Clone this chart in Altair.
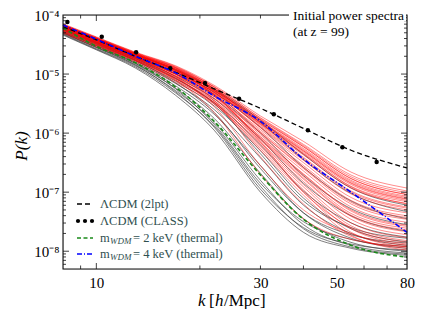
import altair as alt
import numpy as np
import pandas as pd

FONT = "Liberation Serif"
FRAME = "#111111"
W, H = 344, 254

# ---------------- data (log10 P) ----------------
k_grid = [8, 10, 13, 17, 22, 30, 40, 55, 80]

lcdm_2lpt_logp = [-4.20, -4.42, -4.70, -4.97, -5.25, -5.58, -5.92, -6.29, -6.59]
wdm2_logp = [-4.22, -4.53, -4.81, -5.22, -5.80, -6.71, -7.46, -7.90, -8.10]
wdm4_logp = [-4.17, -4.41, -4.70, -4.98, -5.37, -5.80, -6.44, -7.00, -7.68]

class_k = [8.24, 10.37, 13.05, 16.4, 20.7, 26.0, 32.8, 41.2, 51.9, 65.3]
class_logp = [-4.12, -4.37, -4.63, -4.90, -5.15, -5.42, -5.68, -5.95, -6.24, -6.49]

red_logp = [
    [-4.15, -4.37, -4.63, -4.86, -5.19, -5.71, -6.14, -6.66, -6.93],
    [-4.17, -4.39, -4.65, -4.89, -5.22, -5.74, -6.19, -6.71, -6.98],
    [-4.16, -4.38, -4.64, -4.87, -5.22, -5.77, -6.23, -6.77, -7.04],
    [-4.18, -4.40, -4.66, -4.92, -5.25, -5.80, -6.28, -6.82, -7.09],
    [-4.17, -4.40, -4.66, -4.90, -5.25, -5.83, -6.32, -6.87, -7.14],
    [-4.20, -4.42, -4.68, -4.94, -5.28, -5.84, -6.34, -6.90, -7.16],
    [-4.17, -4.39, -4.65, -4.89, -5.25, -5.86, -6.37, -6.93, -7.19],
    [-4.19, -4.41, -4.67, -4.93, -5.28, -5.88, -6.41, -6.98, -7.25],
    [-4.21, -4.44, -4.70, -4.97, -5.31, -5.90, -6.43, -7.00, -7.27],
    [-4.18, -4.40, -4.66, -4.92, -5.28, -5.91, -6.46, -7.03, -7.30],
    [-4.23, -4.46, -4.72, -5.00, -5.34, -5.94, -6.50, -7.09, -7.35],
    [-4.20, -4.42, -4.68, -4.94, -5.32, -5.97, -6.55, -7.14, -7.40],
    [-4.25, -4.47, -4.73, -5.03, -5.38, -6.00, -6.60, -7.20, -7.46],
    [-4.21, -4.43, -4.69, -4.96, -5.34, -6.03, -6.64, -7.25, -7.51],
    [-4.26, -4.49, -4.75, -5.06, -5.41, -6.06, -6.69, -7.30, -7.56],
    [-4.22, -4.45, -4.71, -4.99, -5.38, -6.09, -6.73, -7.36, -7.61],
    [-4.28, -4.51, -4.77, -5.08, -5.45, -6.12, -6.78, -7.41, -7.67],
    [-4.24, -4.46, -4.72, -5.01, -5.41, -6.15, -6.82, -7.46, -7.72],
    [-4.29, -4.52, -4.78, -5.11, -5.48, -6.17, -6.87, -7.52, -7.77],
    [-4.25, -4.48, -4.74, -5.04, -5.45, -6.20, -6.91, -7.57, -7.82],
    [-4.31, -4.54, -4.80, -5.14, -5.51, -6.23, -6.96, -7.62, -7.88],
    [-4.27, -4.50, -4.76, -5.07, -5.48, -6.26, -7.00, -7.68, -7.93],
    [-4.29, -4.51, -4.77, -5.10, -5.50, -6.29, -7.05, -7.73, -7.98],
    [-4.23, -4.46, -4.72, -5.00, -5.29, -5.77, -6.23, -6.77, -7.04],
    [-4.25, -4.47, -4.73, -5.03, -5.33, -5.81, -6.30, -6.85, -7.12],
    [-4.21, -4.44, -4.70, -4.97, -5.36, -6.07, -6.70, -7.32, -7.58],
    [-4.19, -4.41, -4.67, -4.93, -5.35, -6.10, -6.76, -7.39, -7.64],
    [-4.17, -4.40, -4.66, -4.90, -5.30, -5.99, -6.58, -7.17, -7.43],
    [-4.22, -4.45, -4.72, -5.05, -5.55, -6.55, -7.30, -7.70, -7.90],
    [-4.20, -4.43, -4.70, -5.00, -5.45, -6.40, -7.20, -7.75, -7.95],
    [-4.25, -4.48, -4.76, -5.10, -5.65, -6.70, -7.45, -7.80, -7.92],
    [-4.18, -4.40, -4.67, -4.95, -5.35, -6.15, -7.00, -7.60, -7.85],
    [-4.16, -4.38, -4.64, -4.88, -5.21, -5.75, -6.21, -6.74, -7.01],
    [-4.18, -4.41, -4.67, -4.91, -5.24, -5.79, -6.26, -6.80, -7.07],
    [-4.22, -4.44, -4.70, -4.96, -5.30, -5.85, -6.35, -6.91, -7.20],
    [-4.19, -4.42, -4.68, -4.93, -5.27, -5.82, -6.30, -6.84, -7.11],
]

gray_logp = [
    [-4.34, -4.59, -4.90, -5.36, -5.95, -7.00, -7.68, -7.95, -8.07],
    [-4.33, -4.58, -4.88, -5.32, -5.88, -6.90, -7.62, -7.93, -8.05],
    [-4.32, -4.57, -4.86, -5.28, -5.82, -6.80, -7.55, -7.90, -8.03],
    [-4.31, -4.55, -4.84, -5.24, -5.75, -6.68, -7.45, -7.85, -8.00],
    [-4.30, -4.54, -4.82, -5.20, -5.68, -6.55, -7.35, -7.78, -7.95],
    [-4.29, -4.52, -4.80, -5.16, -5.60, -6.42, -7.22, -7.70, -7.90],
    [-4.27, -4.50, -4.78, -5.12, -5.54, -6.30, -7.10, -7.62, -7.84],
    [-4.26, -4.49, -4.76, -5.08, -5.48, -6.20, -6.98, -7.52, -7.76],
    [-4.24, -4.47, -4.74, -5.04, -5.42, -6.10, -6.85, -7.40, -7.66],
    [-4.22, -4.45, -4.72, -5.00, -5.36, -6.00, -6.72, -7.28, -7.55],
    [-4.21, -4.43, -4.70, -4.97, -5.31, -5.90, -6.58, -7.15, -7.45],
    [-4.19, -4.41, -4.68, -4.94, -5.27, -5.82, -6.45, -7.02, -7.33],
    [-4.28, -4.52, -4.82, -5.25, -5.85, -6.85, -7.50, -7.80, -7.92],
    [-4.25, -4.48, -4.77, -5.15, -5.65, -6.60, -7.35, -7.72, -7.86],
    [-4.23, -4.46, -4.74, -5.07, -5.50, -6.35, -7.15, -7.60, -7.78],
    [-4.30, -4.55, -4.85, -5.30, -5.90, -6.95, -7.60, -7.88, -7.98],
    [-4.18, -4.40, -4.67, -4.92, -5.25, -5.78, -6.36, -6.93, -7.22],
]

x_label_values = [10, 30, 50, 80]
y_label_values = [1e-8, 1e-7, 1e-6, 1e-5, 1e-4]
x_major_ticks = [10]
x_minor_ticks = [9, 20, 30, 40, 50, 60, 70]
y_major_ticks = [1e-8, 1e-7, 1e-6, 1e-5]
y_minor_ticks = [m * 10.0 ** e for e in range(-9, -4) for m in range(2, 10)
                 if 5e-9 < m * 10.0 ** e < 1e-4]


def bundle(lines, prefix):
    rows = []
    for i, line in enumerate(lines):
        for k, lp in zip(k_grid, line):
            rows.append({"k": k, "P": 10.0 ** lp, "id": f"{prefix}{i}"})
    return pd.DataFrame(rows)


def single(ks, lps):
    return pd.DataFrame({"k": ks, "P": [10.0 ** v for v in lps]})


red_df = bundle(red_logp, "r")
gray_df = bundle(gray_logp, "g")
lpt_df = single(k_grid, lcdm_2lpt_logp)
w2_df = single(k_grid, wdm2_logp)
w4_df = single(k_grid, wdm4_logp)
cls_df = single(class_k, class_logp)

xs = alt.Scale(type="log", domain=[8, 80], nice=False)
ys = alt.Scale(type="log", domain=[5e-9, 1e-4], nice=False)

y_label_expr = ("datum.value >= 5e-5 ? '10⁻⁴' : datum.value >= 5e-6 ? '10⁻⁵' : "
                "datum.value >= 5e-7 ? '10⁻⁶' : datum.value >= 5e-8 ? '10⁻⁷' : '10⁻⁸'")

xaxis = alt.Axis(values=x_label_values, format="d", ticks=False, domain=False, grid=False,
                 labelFont=FONT, labelFontSize=15, labelPadding=6, labelFlush=False,
                 labelOverlap=False, labelColor="black", title=None)
yaxis = alt.Axis(values=y_label_values, labelExpr=y_label_expr, ticks=False, domain=False,
                 grid=False, labelFont=FONT, labelFontSize=15, labelPadding=4,
                 labelFlush=False, labelOverlap=False, labelColor="black", title=None)


def X():
    return alt.X("k:Q", scale=xs, axis=xaxis)


def Y():
    return alt.Y("P:Q", scale=ys, axis=yaxis)


gray = alt.Chart(gray_df).mark_line(color="#3c3c3c", strokeWidth=1.0, opacity=0.65,
                                    interpolate="monotone").encode(
    x=X(), y=Y(), detail="id:N")
red = alt.Chart(red_df).mark_line(color="#ff0000", strokeWidth=0.9, opacity=0.5,
                                  interpolate="monotone").encode(
    x=X(), y=Y(), detail="id:N")
lpt = alt.Chart(lpt_df).mark_line(color="black", strokeWidth=1.3, strokeDash=[5, 3],
                                  interpolate="monotone").encode(x=X(), y=Y())
cls = alt.Chart(cls_df).mark_circle(color="black", size=20, opacity=1).encode(x=X(), y=Y())
w2 = alt.Chart(w2_df).mark_line(color="#1a8a1a", strokeWidth=1.6, strokeDash=[4, 2.5],
                                interpolate="monotone").encode(x=X(), y=Y())
w4 = alt.Chart(w4_df).mark_line(color="#0000ff", strokeWidth=1.6, strokeDash=[5, 2, 1, 2],
                                interpolate="monotone").encode(x=X(), y=Y())

one = pd.DataFrame({"a": [0]})
layers = [gray, red, lpt, cls, w2, w4]


def tick_layer_x(vals, length, top):
    y0, y1 = (0, length) if top else (H, H - length)
    return alt.Chart(pd.DataFrame({"k": vals})).mark_rule(color=FRAME, strokeWidth=0.8).encode(
        x=X(), y=alt.value(y0), y2=alt.value(y1))


def tick_layer_y(vals, length, right):
    x0, x1 = (W, W - length) if right else (0, length)
    return alt.Chart(pd.DataFrame({"P": vals})).mark_rule(color=FRAME, strokeWidth=0.8).encode(
        y=Y(), x=alt.value(x0), x2=alt.value(x1))


for top in (False, True):
    layers.append(tick_layer_x(x_major_ticks, 6, top))
    layers.append(tick_layer_x(x_minor_ticks, 3.5, top))
for right in (False, True):
    layers.append(tick_layer_y(y_major_ticks, 6, right))
    layers.append(tick_layer_y(y_minor_ticks, 3, right))

# frame
layers.append(alt.Chart(one).mark_rect(fill=None, stroke=FRAME, strokeWidth=1.1).encode(
    x=alt.value(0), x2=alt.value(W), y=alt.value(0), y2=alt.value(H)))


def txt(s, x, y, size=12.5, color="black", style="normal", align="left", angle=0,
        baseline="middle"):
    return alt.Chart(pd.DataFrame({"t": [s]})).mark_text(
        font=FONT, fontSize=size, color=color, fontStyle=style, align=align,
        baseline=baseline, angle=angle).encode(
        x=alt.value(x), y=alt.value(y), text="t:N")


# annotation box (top right)
layers.append(alt.Chart(one).mark_rect(color="white").encode(
    x=alt.value(226), x2=alt.value(W - 1), y=alt.value(-6), y2=alt.value(6)))
layers.append(txt("Initial power spectra", 230, 1, size=13.5))
layers.append(txt("(at z = 99)", 230, 17, size=13.5))

# legend
LEG = "#2f4f4f"
rows_y = [189, 206, 223, 239]
layers.append(alt.Chart(one).mark_rule(color="black", strokeWidth=1.3, strokeDash=[5, 3]).encode(
    x=alt.value(14), x2=alt.value(30), y=alt.value(rows_y[0])))
for dx in (15, 22, 29):
    layers.append(alt.Chart(one).mark_circle(color="black", size=18, opacity=1).encode(
        x=alt.value(dx), y=alt.value(rows_y[1])))
layers.append(alt.Chart(one).mark_rule(color="#1a8a1a", strokeWidth=1.6, strokeDash=[4, 2.5]).encode(
    x=alt.value(14), x2=alt.value(30), y=alt.value(rows_y[2])))
layers.append(alt.Chart(one).mark_rule(color="#0000ff", strokeWidth=1.6, strokeDash=[5, 2, 1, 2]).encode(
    x=alt.value(14), x2=alt.value(30), y=alt.value(rows_y[3])))
layers.append(txt("ΛCDM  (2lpt)", 37, rows_y[0], color=LEG))
layers.append(txt("ΛCDM  (CLASS)", 37, rows_y[1], color=LEG))
for r, s in ((2, "= 2 keV (thermal)"), (3, "= 4 keV (thermal)")):
    layers.append(txt("m", 37, rows_y[r], color=LEG))
    layers.append(txt("WDM", 47, rows_y[r] + 3, size=9, color=LEG, style="italic"))
    layers.append(txt(s, 70, rows_y[r], color=LEG))

# axis titles
layers.append(txt("P(k)", -41, 131, size=17, style="italic", align="center", angle=270))
layers.append(txt("k", 135, 286, size=17, style="italic"))
layers.append(txt("[", 146, 286, size=17))
layers.append(txt("h", 152, 286, size=17, style="italic"))
layers.append(txt("/Mpc]", 161, 286, size=17))

chart = alt.layer(*layers).properties(
    width=W, height=H,
    padding={"left": 55, "top": 7, "right": 10, "bottom": 40},
    autosize=alt.AutoSizeParams(type="none"),
).configure_view(stroke=None).configure(font=FONT, background="white")

chart.save("out.html", embed_options={"renderer": "svg", "actions": False})
